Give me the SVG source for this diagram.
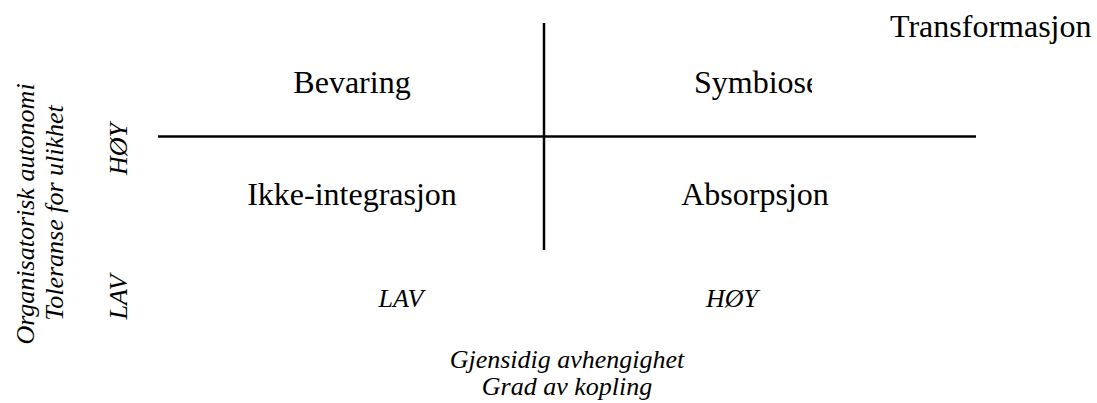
<svg xmlns="http://www.w3.org/2000/svg" width="1097" height="403" viewBox="0 0 1097 403">
  <style>
    .t { font-family: 'Liberation Serif', 'DejaVu Serif', serif; font-size: 32px; fill: #000; }
    .i { font-family: 'Liberation Serif', 'DejaVu Serif', serif; font-size: 26px; font-style: italic; fill: #000; text-anchor: middle; }
    .m { text-anchor: middle; }
    .ln { stroke: #000; stroke-width: 2.5; fill: none; }
  </style>
  <defs>
    <clipPath id="clipSym"><rect x="600" y="40" width="212" height="80"/></clipPath>
  </defs>
  <rect width="1097" height="403" fill="#fff"/>
  <g id="connectors">
    <line class="ln" x1="158" y1="136.5" x2="976" y2="136.5"/>
    <line class="ln" x1="544" y1="23" x2="544" y2="250"/>
  </g>
  <g id="node-transformasjon"><text class="t" x="890" y="37">Transformasjon</text></g>
  <g id="node-bevaring"><text class="t m" x="352" y="93">Bevaring</text></g>
  <g id="node-symbiose"><text class="t" x="694" y="93" clip-path="url(#clipSym)">Symbiose</text></g>
  <g id="node-ikke-integrasjon"><text class="t m" x="352" y="205">Ikke-integrasjon</text></g>
  <g id="node-absorpsjon"><text class="t m" x="755" y="205">Absorpsjon</text></g>
  <g id="axis-x">
    <text class="i" x="401" y="307">LAV</text>
    <text class="i" x="732" y="307">HØY</text>
    <text class="i" x="567" y="368">Gjensidig avhengighet</text>
    <text class="i" x="567" y="395">Grad av kopling</text>
  </g>
  <g id="axis-y">
    <text class="i" transform="translate(34 214) rotate(-90)">Organisatorisk autonomi</text>
    <text class="i" transform="translate(63 213) rotate(-90)">Toleranse for ulikhet</text>
    <text class="i" transform="translate(127 149) rotate(-90)">HØY</text>
    <text class="i" transform="translate(127 297) rotate(-90)">LAV</text>
  </g>
</svg>
